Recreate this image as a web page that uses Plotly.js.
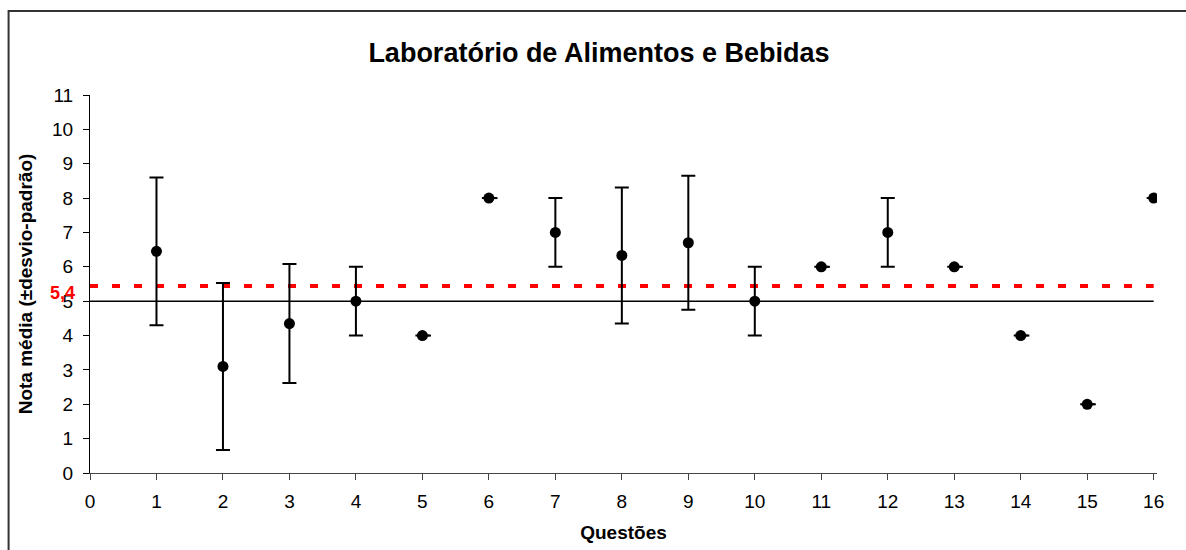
<!DOCTYPE html>
<html>
<head>
<meta charset="utf-8">
<script src="https://cdn.plot.ly/plotly-3.0.1.min.js"></script>
<style>html,body{margin:0;padding:0;background:#fff;}#chart{width:1186px;height:550px;}</style>
</head>
<body>
<div id="chart"></div>
<script>
// Data
const questoes = [1, 2, 3, 4, 5, 6, 7, 8, 9, 10, 11, 12, 13, 14, 15, 16];
const notaMedia = [6.45, 3.1, 4.35, 5, 4, 8, 7, 6.33, 6.7, 5, 6, 7, 6, 4, 2, 8];
const desvioPadrao = [2.15, 2.43, 1.73, 1, 0, 0, 1, 1.98, 1.95, 1, 0, 1, 0, 0, 0, 0];
const linhaReferencia = 5;
const mediaGeral = 5.44;
const mediaGeralLabel = '5,4';
const xTicks = [0, 1, 2, 3, 4, 5, 6, 7, 8, 9, 10, 11, 12, 13, 14, 15, 16];
const yTicks = [0, 1, 2, 3, 4, 5, 6, 7, 8, 9, 10, 11];

const FONT = 'Arial, "Liberation Sans", sans-serif';
const xMin = xTicks[0], xMax = xTicks[xTicks.length - 1];

const traces = [
  {
    x: [xMin, xMax], y: [linhaReferencia, linhaReferencia],
    mode: 'lines', line: {color: '#000', width: 1.5},
    hoverinfo: 'skip', showlegend: false
  },
  {
    x: [xMin, xMax], y: [mediaGeral, mediaGeral],
    mode: 'lines', line: {color: '#ff0000', width: 4, dash: '8px,14px'},
    hoverinfo: 'skip', showlegend: false
  },
  {
    x: questoes, y: notaMedia,
    mode: 'markers', type: 'scatter',
    marker: {color: '#000', size: 11},
    error_y: {
      type: 'data', symmetric: true,
      array: desvioPadrao.map(s => s > 0 ? s : null),
      color: '#000', thickness: 2, width: 7
    },
    error_x: {
      type: 'data', symmetric: false,
      array: desvioPadrao.map(s => s > 0 ? 0 : 0.13),
      arrayminus: desvioPadrao.map(() => 0),
      color: '#000', thickness: 2, width: 0
    },
    showlegend: false
  }
];

const layout = {
  width: 1186, height: 550,
  margin: {l: 89.5, r: 29, t: 95, b: 77},
  paper_bgcolor: '#fff', plot_bgcolor: '#fff',
  font: {family: FONT, color: '#000'},
  title: {
    text: 'Laboratório de Alimentos e Bebidas',
    font: {family: FONT, size: 27, color: '#000', weight: 'bold'},
    x: 0.505, xanchor: 'center', y: 0.905, yanchor: 'middle'
  },
  xaxis: {
    range: [xMin, xMax + 0.05], tickvals: xTicks, ticktext: xTicks.map(String),
    showgrid: false, zeroline: false,
    showline: true, linecolor: '#444', linewidth: 1,
    ticks: 'outside', ticklen: 6, tickcolor: '#444', ticklabelstandoff: 5,
    tickfont: {family: FONT, size: 19, color: '#000'},
    title: {text: 'Questões', font: {family: FONT, size: 19, color: '#000', weight: 'bold'}, standoff: 14}
  },
  yaxis: {
    range: [0, 11], tickvals: yTicks, ticktext: yTicks.map(String),
    showgrid: false, zeroline: false,
    showline: true, linecolor: '#000', linewidth: 1,
    ticks: 'outside', ticklen: 6, tickcolor: '#000', ticklabelstandoff: 6,
    tickfont: {family: FONT, size: 19, color: '#000'},
    title: {text: 'Nota média (±desvio-padrão)', font: {family: FONT, size: 19, color: '#000', weight: 'bold'}, standoff: 14}
  },
  shapes: [
    {
      type: 'rect', xref: 'paper', yref: 'paper',
      x0: -0.0763, x1: 1.2, y0: -0.5, y1: 1.222,
      line: {color: '#333', width: 2}, fillcolor: 'rgba(0,0,0,0)', layer: 'below'
    }
  ],
  annotations: [
    {
      text: mediaGeralLabel, xref: 'paper', yref: 'y',
      x: -0.0125, y: 5.23, xanchor: 'right', yanchor: 'middle',
      showarrow: false,
      font: {family: FONT, size: 18, color: '#ff0000', weight: 'bold'}
    }
  ]
};

Plotly.newPlot('chart', traces, layout, {displayModeBar: false, responsive: false});
</script>
</body>
</html>
